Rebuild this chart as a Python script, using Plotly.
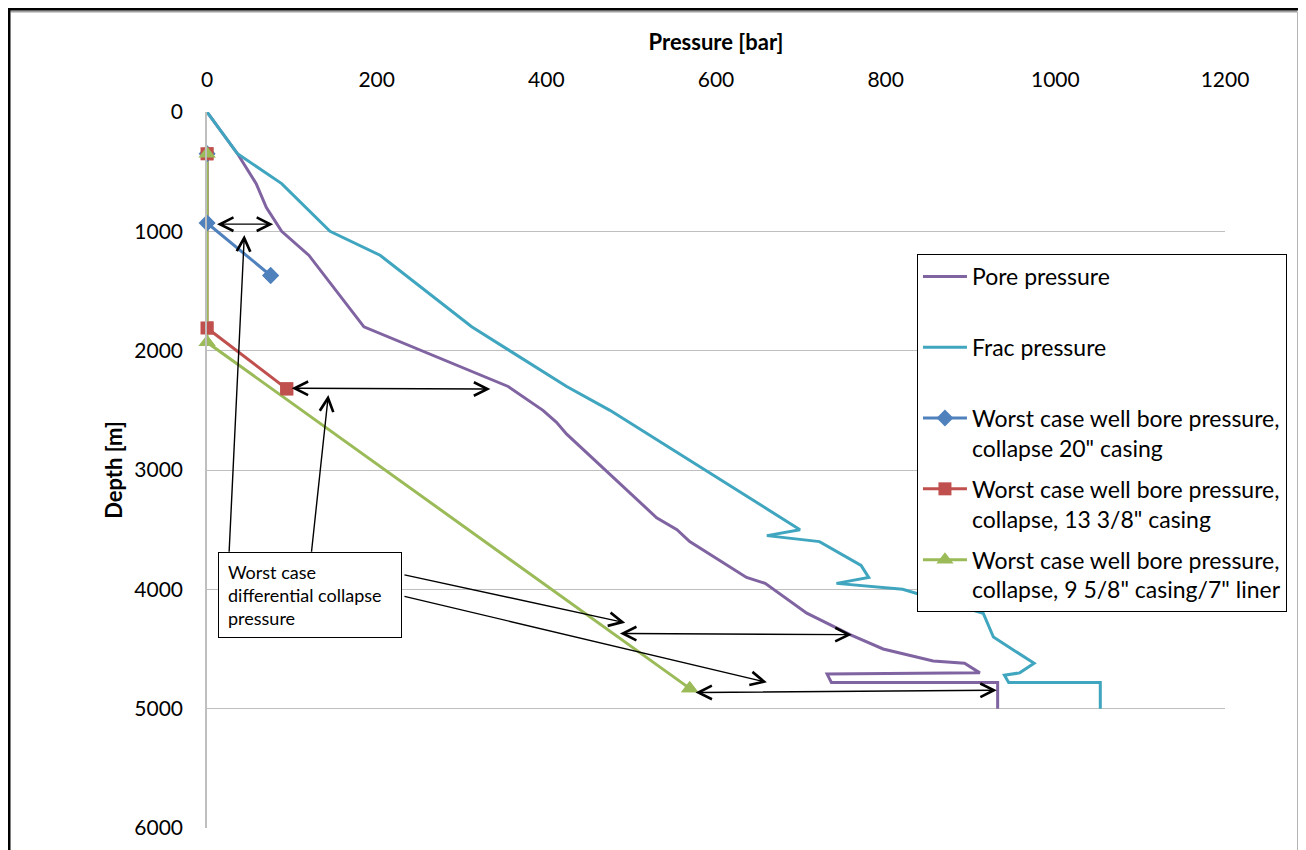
import plotly.graph_objects as go

# ---- data ----
pore_p = [0, 36, 58, 70, 88, 120, 185, 355, 396, 412, 424, 530, 554, 569, 636, 658, 707, 758, 797, 856, 893, 911, 731, 736, 932, 932]
pore_d = [0, 350, 600, 800, 1000, 1200, 1800, 2300, 2500, 2600, 2700, 3400, 3500, 3600, 3900, 3950, 4200, 4380, 4500, 4600, 4620, 4700, 4710, 4780, 4780, 5000]

frac_p = [0, 36, 88, 145, 204, 312, 424, 475, 699, 660, 722, 771, 780, 742, 820, 915, 927, 975, 958, 940, 945, 1053, 1053]
frac_d = [0, 350, 600, 1000, 1200, 1800, 2300, 2500, 3500, 3550, 3600, 3800, 3900, 3950, 4000, 4200, 4400, 4620, 4700, 4720, 4780, 4780, 5000]

c20_p = [0, 0, 75]
c20_d = [350, 930, 1370]
c13_p = [0, 0, 94]
c13_d = [350, 1810, 2320]
c9_p = [0, 0, 569]
c9_d = [350, 1930, 4830]

names = [
    "Pore pressure<br> ",
    "Frac pressure<br> ",
    'Worst case well bore pressure,<br>collapse 20" casing',
    'Worst case well bore pressure,<br>collapse, 13 3/8" casing',
    'Worst case well bore pressure,<br>collapse, 9 5/8" casing/7" liner',
]

# differential arrows: (x_tail, y_tail, x_head, y_head)
diff_arrows = [
    (10, 940, 78, 940),
    (98, 2315, 334, 2322),
    (485, 4370, 760, 4380),
    (574, 4865, 931, 4845),
]
# callout arrows from text box: (tail_x, tail_y, head_x, head_y)
callouts = [
    (26, 3698, 44, 1031),
    (123, 3698, 143, 2372),
    (231, 3876, 493, 4280),
    (231, 4056, 660, 4779),
]
box_text = "Worst case<br>differential collapse<br>pressure"
box_pos = (120, 4048)

FONT = "Lato"
C_PORE, C_FRAC = "#8064A2", "#40A6C0"
C_BLUE, C_RED, C_GREEN = "#4F81BD", "#C0504D", "#9BBB59"

fig = go.Figure()
fig.add_trace(go.Scatter(x=pore_p, y=pore_d, mode="lines", name=names[0], legendgroup="a",
                         line=dict(color=C_PORE, width=3)))
fig.add_trace(go.Scatter(x=frac_p, y=frac_d, mode="lines", name=names[1], legendgroup="b",
                         line=dict(color=C_FRAC, width=3)))
series = [
    (c20_p, c20_d, names[2], "c", C_BLUE, "diamond", 13),
    (c13_p, c13_d, names[3], "d", C_RED, "square", 13),
    (c9_p, c9_d, names[4], "e", C_GREEN, "triangle-up", 15),
]
for (xs, ys, nm, grp, col, sym, sz) in series:
    fig.add_trace(go.Scatter(x=xs, y=ys, mode="lines+markers", name=nm, legendgroup=grp,
                             line=dict(color=col, width=3), cliponaxis=True,
                             marker=dict(symbol=sym, size=sz, color=col)))
# unclipped markers on top (lines stay clipped at the axis like the original)
for (xs, ys, nm, grp, col, sym, sz) in series:
    fig.add_trace(go.Scatter(x=xs, y=ys, mode="markers", name=nm, legendgroup=grp, showlegend=False,
                             cliponaxis=False, marker=dict(symbol=sym, size=sz, color=col)))

annotations = []
for (x0, y0, x1, y1) in diff_arrows:
    annotations.append(dict(x=x1, y=y1, ax=x0, ay=y0, xref="x", yref="y", axref="x", ayref="y",
                            text="", showarrow=True, arrowhead=5, startarrowhead=5,
                            arrowside="end+start", arrowsize=1.9, startarrowsize=1.9,
                            arrowwidth=1.4, arrowcolor="black", standoff=0, startstandoff=0))
for (x0, y0, x1, y1) in callouts:
    annotations.append(dict(x=x1, y=y1, ax=x0, ay=y0, xref="x", yref="y", axref="x", ayref="y",
                            text="", showarrow=True, arrowhead=5, arrowsize=1.9,
                            arrowwidth=1.4, arrowcolor="black", standoff=0))
annotations.append(dict(x=box_pos[0], y=box_pos[1], xref="x", yref="y", text=box_text,
                        showarrow=False, align="left", valign="middle", width=164, height=66,
                        bgcolor="white", bordercolor="black", borderwidth=1, borderpad=9,
                        xshift=1, font=dict(family=FONT, size=18, color="black")))

# outer frame (paper coords; plot area is 1018 x 716 px)
shapes = [
    dict(type="line", xref="paper", yref="paper", x0=-0.193, x1=1.0707, y0=1.1404, y1=1.1404,
         line=dict(color="#A0A0A0", width=2)),
    dict(type="line", xref="paper", yref="paper", x0=1.0717, x1=1.0717, y0=1.1404, y1=-0.1,
         line=dict(color="#A0A0A0", width=1.5)),
    dict(type="rect", xref="paper", yref="paper", x0=-0.1945, x1=1.0737, y0=-0.1, y1=1.1439,
         line=dict(color="black", width=3)),
]

fig.update_layout(
    width=1298, height=842,
    margin=dict(l=199, r=81, t=104, b=22),
    paper_bgcolor="white", plot_bgcolor="white",
    font=dict(family=FONT, size=21, color="black"),
    showlegend=True,
    legend=dict(x=0.6974, y=0.8017, xanchor="left", yanchor="top",
                bgcolor="white", bordercolor="black", borderwidth=1,
                font=dict(family=FONT, size=23, color="black"),
                valign="top", tracegroupgap=8, itemwidth=44),
    annotations=annotations,
    shapes=shapes,
)
fig.update_xaxes(range=[0, 1200], side="top", dtick=200, tick0=0, showgrid=False, zeroline=False,
                 showline=False, ticks="outside", ticklen=16, tickcolor="rgba(0,0,0,0)",
                 tickfont=dict(family=FONT, size=21, color="black"), automargin=False,
                 title=dict(text="Pressure [bar]", standoff=8,
                            font=dict(family=FONT, size=22, color="black", weight="bold")))
fig.update_yaxes(range=[6000, 0], dtick=1000, tick0=0, showgrid=True, gridcolor="#BFBFBF", gridwidth=1.3,
                 zeroline=False, showline=True, linecolor="#BFBFBF", linewidth=1.5,
                 ticks="outside", ticklen=18, tickcolor="rgba(0,0,0,0)", automargin=False,
                 tickfont=dict(family=FONT, size=21, color="black"),
                 title=dict(text="Depth [m]", standoff=6,
                            font=dict(family=FONT, size=22, color="black", weight="bold")))

fig.write_html("out.html")
